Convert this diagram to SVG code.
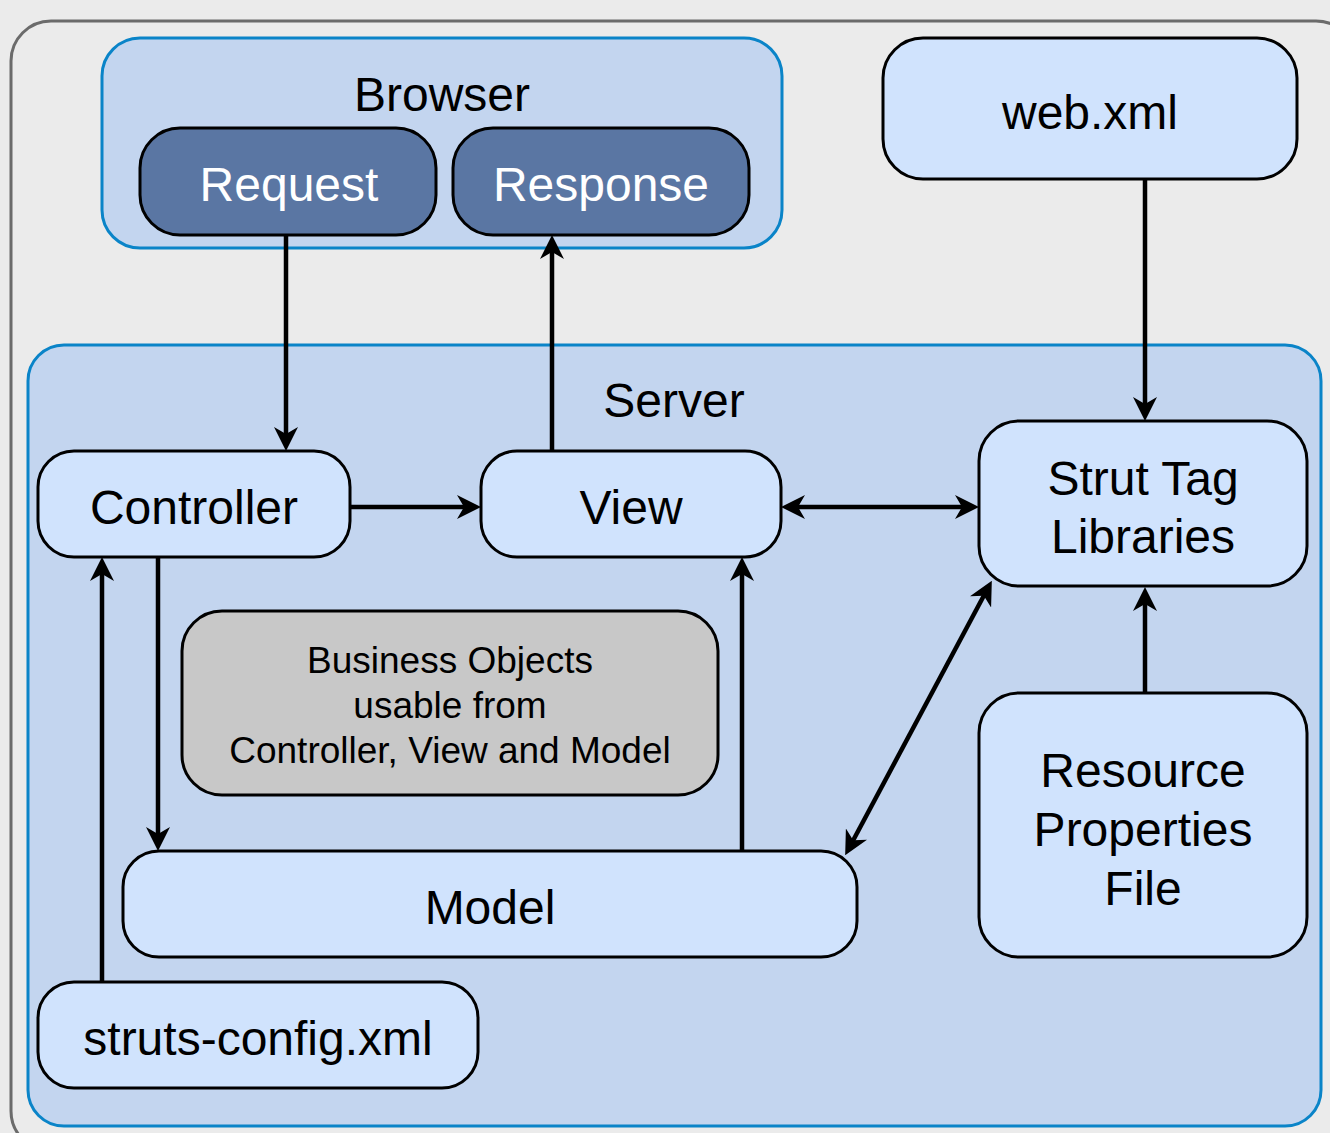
<svg xmlns="http://www.w3.org/2000/svg" width="1330" height="1133" viewBox="0 0 1330 1133">
<style>
text{font-family:"Liberation Sans",Arial,Helvetica,sans-serif;text-anchor:middle;fill:#000}
.node{fill:#d0e3fd;stroke:#000;stroke-width:3}
.dark{fill:#5a76a3;stroke:#000;stroke-width:3}
.grey{fill:#c8c8c8;stroke:#000;stroke-width:3}
.cont{fill:#c3d5ef;stroke:#0a84c8;stroke-width:3}
.big{font-size:48px}
.small{font-size:37px}
.conn{fill:none;stroke:#000;stroke-width:4.5}
</style>
<defs>
<marker id="ah" viewBox="0 0 24 24" refX="18" refY="12" markerWidth="24" markerHeight="24" markerUnits="userSpaceOnUse" orient="auto-start-reverse">
<path d="M24,12 L0,0 L7,12 L0,24 Z" fill="#000"/>
</marker>
</defs>
<rect width="1330" height="1133" fill="#ebebeb"/>
<rect x="11" y="21" width="1345" height="1130" rx="40" fill="#ebebeb" stroke="#6b6b6b" stroke-width="3"/>
<g id="browser">
<rect class="cont" x="102" y="38" width="680" height="210" rx="38"/>
<text class="big" x="442" y="111">Browser</text>
</g>
<g id="server">
<rect class="cont" x="28" y="345" width="1293" height="781" rx="36"/>
<text class="big" x="674" y="417">Server</text>
</g>
<g id="request">
<rect class="dark" x="140" y="128" width="296" height="107" rx="40"/>
<text class="big" x="289" y="201" style="fill:#fff">Request</text>
</g>
<g id="response">
<rect class="dark" x="453" y="128" width="296" height="107" rx="40"/>
<text class="big" x="601" y="201" style="fill:#fff">Response</text>
</g>
<g id="webxml">
<rect class="node" x="883" y="38" width="414" height="141" rx="40"/>
<text class="big" x="1090" y="129">web.xml</text>
</g>
<g id="controller">
<rect class="node" x="38" y="451" width="312" height="106" rx="36"/>
<text class="big" x="194" y="524">Controller</text>
</g>
<g id="view">
<rect class="node" x="481" y="451" width="300" height="106" rx="36"/>
<text class="big" x="631" y="524">View</text>
</g>
<g id="strut">
<rect class="node" x="979" y="421" width="328" height="165" rx="40"/>
<text class="big" x="1143" y="495">Strut Tag</text>
<text class="big" x="1143" y="553">Libraries</text>
</g>
<g id="business">
<rect class="grey" x="182" y="611" width="536" height="184" rx="40"/>
<text class="small" x="450" y="673">Business Objects</text>
<text class="small" x="450" y="718">usable from</text>
<text class="small" x="450" y="763">Controller, View and Model</text>
</g>
<g id="model">
<rect class="node" x="123" y="851" width="734" height="106" rx="36"/>
<text class="big" x="490" y="924">Model</text>
</g>
<g id="strutsconfig">
<rect class="node" x="38" y="982" width="440" height="106" rx="36"/>
<text class="big" x="258" y="1055">struts-config.xml</text>
</g>
<g id="resource">
<rect class="node" x="979" y="693" width="328" height="264" rx="40"/>
<text class="big" x="1143" y="787">Resource</text>
<text class="big" x="1143" y="846">Properties</text>
<text class="big" x="1143" y="905">File</text>
</g>
<g id="connectors">
<path class="conn" d="M286,235 L286,445" marker-end="url(#ah)"/>
<path class="conn" d="M552,451 L552,241" marker-end="url(#ah)"/>
<path class="conn" d="M1145,179 L1145,415" marker-end="url(#ah)"/>
<path class="conn" d="M350,507 L475,507" marker-end="url(#ah)"/>
<path class="conn" d="M787,507 L973,507" marker-start="url(#ah)" marker-end="url(#ah)"/>
<path class="conn" d="M158,557 L158,845" marker-end="url(#ah)"/>
<path class="conn" d="M102,982 L102,563" marker-end="url(#ah)"/>
<path class="conn" d="M742,851 L742,563" marker-end="url(#ah)"/>
<path class="conn" d="M848,850 L989,586" marker-start="url(#ah)" marker-end="url(#ah)"/>
<path class="conn" d="M1145,693 L1145,593" marker-end="url(#ah)"/>
</g>
</svg>
